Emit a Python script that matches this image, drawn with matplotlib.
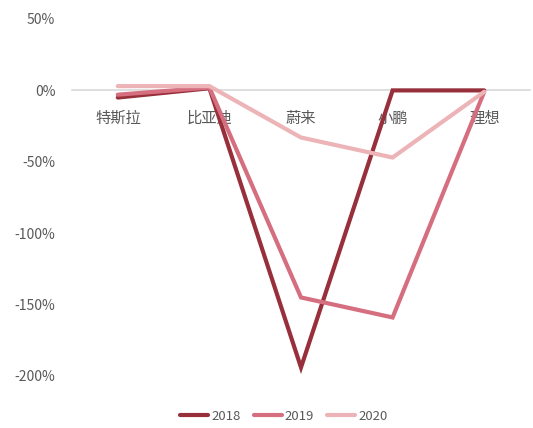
import matplotlib
matplotlib.use("Agg")
import matplotlib.pyplot as plt
from matplotlib.ticker import FuncFormatter

plt.rcParams['font.family'] = ['Noto Sans CJK SC', 'DejaVu Sans']

categories = ['特斯拉', '比亚迪', '蔚来', '小鹏', '理想']
s2018 = [-5, 1.5, -194, 0, 0]
s2019 = [-3, 2, -145, -159, -1]
s2020 = [3, 3, -33, -47, -1]
series_names = ['2018', '2019', '2020']
colors = ['#97303B', '#D56E7E', '#EDB4B8']

fig = plt.figure(figsize=(5.33, 4.28), dpi=100)
ax = fig.add_axes([72/533, 1-376/428, (530-72)/533, (376-19)/428])

x = list(range(len(categories)))
for vals, name, c in zip([s2018, s2019, s2020], series_names, colors):
    ax.plot(x, vals, color=c, lw=3, label=name, solid_capstyle='round', solid_joinstyle='miter')

ax.set_xlim(-0.5, len(categories) - 0.5)
ax.set_ylim(-200, 50)
ax.set_yticks([-200, -150, -100, -50, 0, 50])
ax.yaxis.set_major_formatter(FuncFormatter(lambda v, p: f'{int(v)}%'))

for s in ['top', 'right', 'left']:
    ax.spines[s].set_visible(False)
ax.spines['bottom'].set_position(('data', 0))
ax.spines['bottom'].set_color('#D9D9D9')
ax.spines['bottom'].set_linewidth(1.2)
ax.spines['bottom'].set_zorder(0)

ax.set_xticks(x)
ax.set_xticklabels(categories)
ax.tick_params(axis='x', length=0, pad=14, labelsize=11, labelcolor='#595959')
ax.tick_params(axis='y', length=0, pad=12, labelsize=10, labelcolor='#595959')

leg = fig.legend(loc='center', bbox_to_anchor=(284/533, 1-416/428), ncol=3, frameon=False,
                 fontsize=9.5, handlelength=2.1, columnspacing=1.0, handletextpad=0.25)
for t in leg.get_texts():
    t.set_color('#595959')

fig.savefig('out.png', dpi=100)
